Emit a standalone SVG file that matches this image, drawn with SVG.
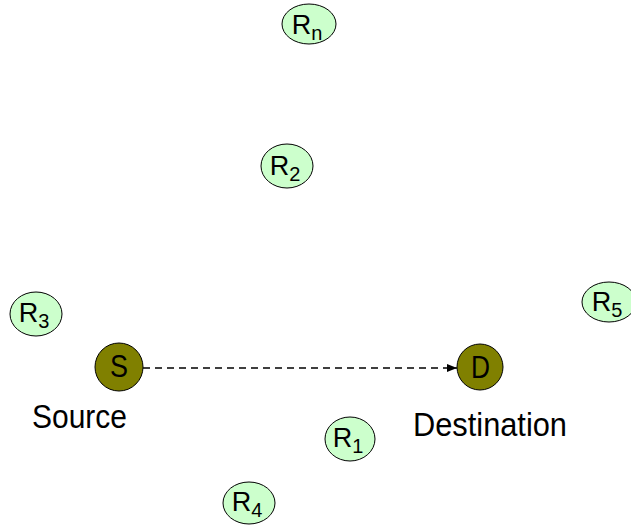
<svg xmlns="http://www.w3.org/2000/svg" width="631" height="530" viewBox="0 0 631 530">
<defs>
<marker id="ah" viewBox="0 0 10 10" refX="10" refY="5" markerWidth="10" markerHeight="10" markerUnits="userSpaceOnUse" orient="auto">
<path d="M0,1 L10,5 L0,9 Z" fill="#000"/>
</marker>
</defs>
<style>
.r{fill:#ccffcc;stroke:#000;stroke-width:1}
.sd{fill:#808000;stroke:#000;stroke-width:1}
.t{font-family:"Liberation Sans",Arial,sans-serif;fill:#000}
.lbl{font-size:27px;text-anchor:middle}
.sub{font-size:20px}
.big{font-size:33px}
.edge{stroke:#000;stroke-width:1.3;stroke-dasharray:7 5;fill:none}
</style>
<rect width="631" height="530" fill="#fff"/>
<g id="connectors">
<line class="edge" x1="143" y1="368" x2="457" y2="368" marker-end="url(#ah)"/>
</g>
<g id="Rn"><ellipse class="r" cx="309" cy="24" rx="27" ry="20"/><text class="t lbl" x="307" y="34">R<tspan class="sub" dy="6">n</tspan></text></g>
<g id="R2"><ellipse class="r" cx="287" cy="166" rx="26" ry="22"/><text class="t lbl" x="285" y="175">R<tspan class="sub" dy="6">2</tspan></text></g>
<g id="R3"><ellipse class="r" cx="36" cy="314" rx="26" ry="22"/><text class="t lbl" x="34" y="322">R<tspan class="sub" dy="6">3</tspan></text></g>
<g id="R5"><ellipse class="r" cx="609" cy="302" rx="27" ry="20"/><text class="t lbl" x="607" y="311">R<tspan class="sub" dy="6">5</tspan></text></g>
<g id="R1"><ellipse class="r" cx="350" cy="439" rx="25" ry="22"/><text class="t lbl" x="348" y="447">R<tspan class="sub" dy="6">1</tspan></text></g>
<g id="R4"><ellipse class="r" cx="249" cy="503" rx="26" ry="21"/><text class="t lbl" x="247" y="511">R<tspan class="sub" dy="6">4</tspan></text></g>
<g id="S"><circle class="sd" cx="119" cy="367" r="24"/><text class="t" x="110" y="377" font-size="32" textLength="18" lengthAdjust="spacingAndGlyphs">S</text><text class="t big" x="32" y="428" textLength="95" lengthAdjust="spacingAndGlyphs">Source</text></g>
<g id="D"><circle class="sd" cx="480" cy="367" r="23"/><text class="t" x="471" y="378" font-size="32" textLength="19" lengthAdjust="spacingAndGlyphs">D</text><text class="t big" x="413" y="436" textLength="154" lengthAdjust="spacingAndGlyphs">Destination</text></g>
</svg>
